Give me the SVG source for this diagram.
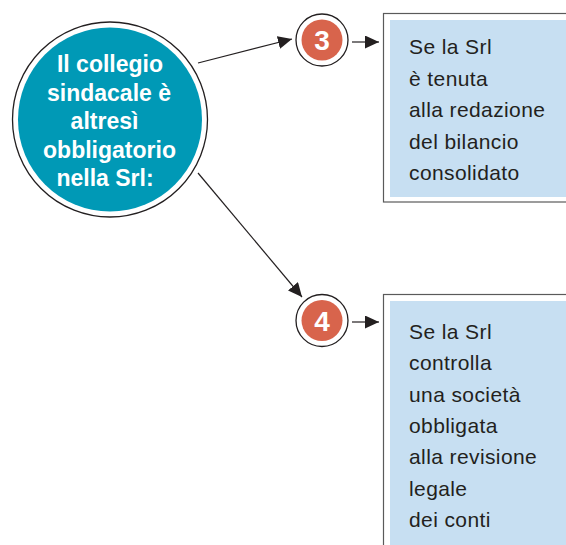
<svg xmlns="http://www.w3.org/2000/svg" width="566" height="545" viewBox="0 0 566 545">
<style>
.ring{fill:#fff;stroke:#231f20;stroke-width:1.3}
.hub{fill:#0099b6}
.badge{fill:#d8644c}
.hubtxt{font-family:"Liberation Sans",Arial,sans-serif;font-weight:bold;font-size:23px;fill:#fff;text-anchor:middle}
.num{font-family:"Liberation Sans",Arial,sans-serif;font-weight:bold;font-size:28px;fill:#fff;text-anchor:middle}
.frame{fill:#fff;stroke:#5a5a5a;stroke-width:1.2}
.panel{fill:#c7dff2}
.boxtxt{font-family:"Liberation Sans",Arial,sans-serif;font-size:21px;letter-spacing:0.4px;fill:#231f20}
.conn{stroke:#231f20;stroke-width:1.2;fill:none;marker-end:url(#ah)}
</style>
<defs>
<marker id="ah" markerUnits="userSpaceOnUse" markerWidth="15" markerHeight="14" refX="14" refY="6.5" orient="auto">
<path d="M0,0 L14,6.5 L0,13 z" fill="#231f20"/>
</marker>
</defs>
<rect width="566" height="545" fill="#fff"/>

<g id="hub">
<circle class="ring" cx="110" cy="119.5" r="97.5"/>
<circle class="hub" cx="110" cy="119.5" r="92"/>
<text class="hubtxt" x="110" y="72">Il collegio</text>
<text class="hubtxt" x="109" y="100.5">sindacale è</text>
<text class="hubtxt" x="104.5" y="129">altresì</text>
<text class="hubtxt" x="109.5" y="157.5">obbligatorio</text>
<text class="hubtxt" x="105" y="186">nella Srl:</text>
</g>

<g id="badge3">
<circle class="ring" cx="322" cy="40" r="26"/>
<circle class="badge" cx="322" cy="40" r="20.5"/>
<text class="num" x="322" y="50">3</text>
</g>

<g id="badge4">
<circle class="ring" cx="322" cy="320.5" r="26"/>
<circle class="badge" cx="322" cy="320.5" r="20.5"/>
<text class="num" x="322" y="330.5">4</text>
</g>

<g id="box3">
<rect class="frame" x="383.5" y="13.5" width="200" height="188.5"/>
<rect class="panel" x="390" y="20" width="190" height="177"/>
<text class="boxtxt" x="409" y="54">Se la Srl</text>
<text class="boxtxt" x="409" y="85.5">è tenuta</text>
<text class="boxtxt" x="409" y="117">alla redazione</text>
<text class="boxtxt" x="409" y="148.5">del bilancio</text>
<text class="boxtxt" x="409" y="180">consolidato</text>
</g>

<g id="box4">
<rect class="frame" x="383.5" y="294.5" width="200" height="270"/>
<rect class="panel" x="390" y="301" width="190" height="260"/>
<text class="boxtxt" x="409" y="339">Se la Srl</text>
<text class="boxtxt" x="409" y="370.3">controlla</text>
<text class="boxtxt" x="409" y="401.6">una società</text>
<text class="boxtxt" x="409" y="432.9">obbligata</text>
<text class="boxtxt" x="409" y="464.2">alla revisione</text>
<text class="boxtxt" x="409" y="495.5">legale</text>
<text class="boxtxt" x="409" y="526.8">dei conti</text>
</g>

<g id="connectors">
<line class="conn" x1="198" y1="63" x2="292" y2="39"/>
<line class="conn" x1="198" y1="173" x2="302" y2="297"/>
<line class="conn" x1="352" y1="42" x2="379" y2="42"/>
<line class="conn" x1="352" y1="322" x2="379" y2="322"/>
</g>
</svg>
